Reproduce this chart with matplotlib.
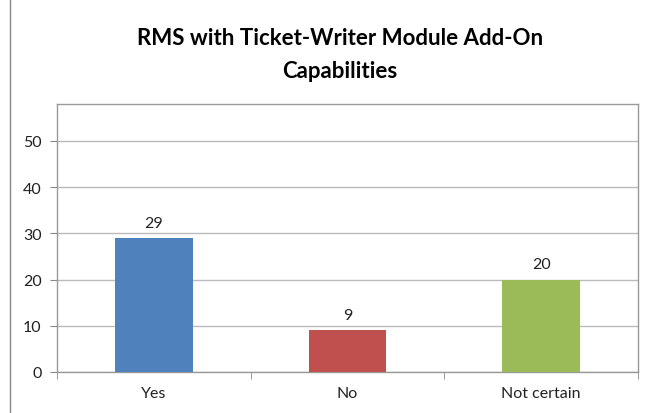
import matplotlib
matplotlib.use("Agg")
import matplotlib.pyplot as plt
from matplotlib.lines import Line2D
import numpy as np

categories = ["Yes", "No", "Not certain"]
values = [29, 9, 20]
colors = ["#4F81BD", "#C0504D", "#9BBB59"]
yticks = [0, 10, 20, 30, 40, 50]
title = "RMS with Ticket-Writer Module Add-On\nCapabilities"

plt.rcParams['font.family'] = ['Lato', 'DejaVu Sans']

fig = plt.figure(figsize=(6.45, 4.14), dpi=100)
ax = fig.add_axes([57/645, 1-373/414, (638-57)/645, (373-105)/414])

x = np.arange(len(categories))
bars = ax.bar(x, values, width=0.4, color=colors, zorder=3)
for xi, v in zip(x, values):
    ax.annotate(str(v), (xi, v), xytext=(0, 6), textcoords="offset points",
                ha="center", va="bottom", fontsize=11.5, color="#222222")

ax.set_xlim(-0.5, len(categories) - 0.5)
ax.set_ylim(0, 58)
ax.set_yticks(yticks)
ax.set_yticklabels([str(t) for t in yticks], fontsize=11.5, color="#222222")
ax.set_xticks(x)
ax.set_xticklabels(categories, fontsize=11.5, color="#222222")
ax.tick_params(axis="x", length=0, pad=10)
ax.tick_params(axis="y", length=5, color="#888888", pad=6)
# category boundary ticks
ax.set_xticks(np.arange(-0.5, len(categories), 1.0), minor=True)
ax.tick_params(axis="x", which="minor", length=5, color="#888888")

ax.grid(axis="y", color="#BBBBBB", linewidth=1, zorder=0)
for s in ["left", "bottom", "top", "right"]:
    ax.spines[s].set_color("#999999")
    ax.spines[s].set_linewidth(1)

fig.text(340/645, 1-55/414, title, ha="center", va="center", fontsize=16,
         fontweight="bold", linespacing=1.65, color="#000000")

fig.add_artist(Line2D([10/645, 10/645], [0, 1], transform=fig.transFigure,
                      color="#888888", linewidth=1))

fig.savefig("out.png", dpi=100, facecolor="white")
